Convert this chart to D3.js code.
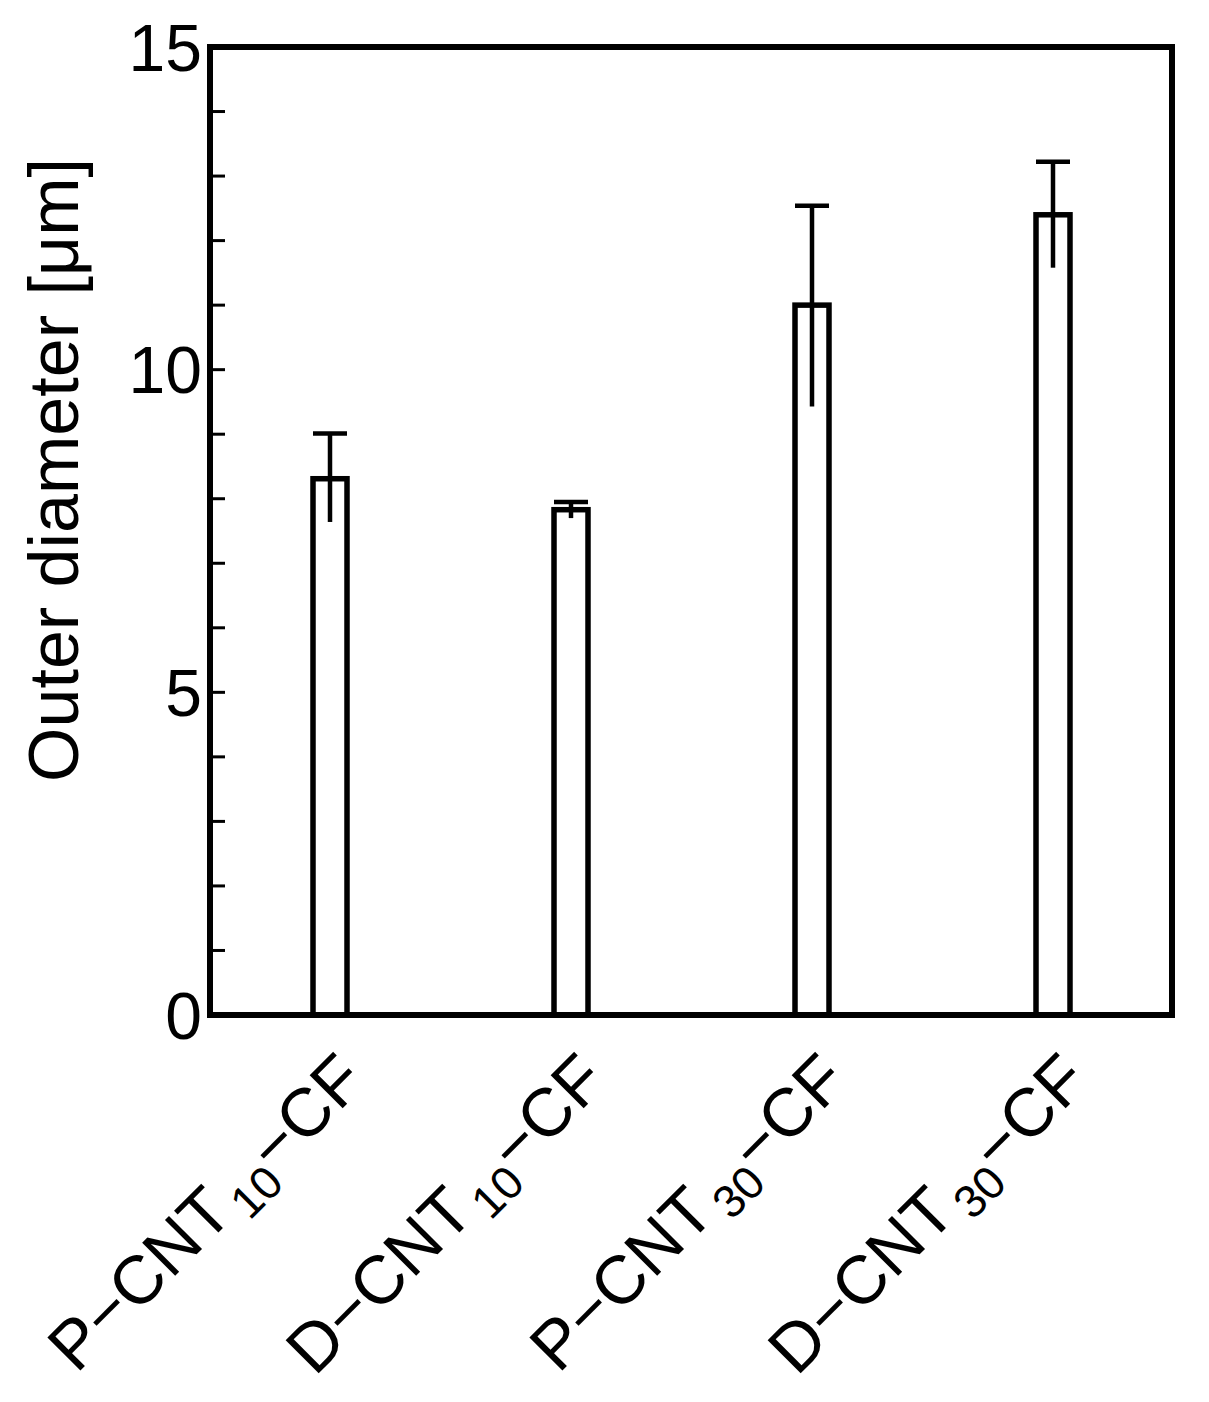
<!DOCTYPE html>
<html><head><meta charset="utf-8">
<script src="https://cdn.jsdelivr.net/npm/d3@7"></script>
<style>body{margin:0;background:#fff}</style>
</head><body>
<script>
var names = ["P", "D", "P", "D"];
var subs = ["10", "10", "30", "30"];
var values = [8.31, 7.83, 11.0, 12.4];
var errUp = [9.01, 7.95, 12.54, 13.22];
var errLow = [7.64, 7.7, 9.43, 11.58];
var majorTicks = [0, 5, 10, 15];

var W = 1209, H = 1402;
var margin = {top: 47, right: 37, bottom: 387, left: 210};
var w = W - margin.left - margin.right, h = H - margin.top - margin.bottom;

var svg = d3.select('body').append('svg').attr('width', W).attr('height', H)
  .style('font-family', 'Liberation Sans, Arial, sans-serif');
var g = svg.append('g').attr('transform', 'translate(' + margin.left + ',' + margin.top + ')');

var x = d3.scalePoint().domain(d3.range(4)).range([120, 843]);
var y = d3.scaleLinear().domain([0, 15]).range([h, 0]);
var bw = 34;

// minor ticks (inside)
g.selectAll('.minor').data(d3.range(1, 15)).enter().append('line')
  .attr('x1', 0).attr('x2', 15).attr('y1', d => y(d)).attr('y2', d => y(d))
  .attr('stroke', '#000').attr('stroke-width', 3);

g.selectAll('.tl').data(majorTicks).enter().append('text')
  .attr('x', -8).attr('y', d => y(d)).attr('dy', '0.36em')
  .attr('text-anchor', 'end').attr('font-size', 66).text(d => d);

// error bars
g.selectAll('.ev').data(values).enter().append('line')
  .attr('x1', (d, i) => x(i)).attr('x2', (d, i) => x(i))
  .attr('y1', (d, i) => y(errLow[i])).attr('y2', (d, i) => y(errUp[i]))
  .attr('stroke', '#000').attr('stroke-width', 4.5);
g.selectAll('.ec').data(values).enter().append('line')
  .attr('x1', (d, i) => x(i) - 17).attr('x2', (d, i) => x(i) + 17)
  .attr('y1', (d, i) => y(errUp[i])).attr('y2', (d, i) => y(errUp[i]))
  .attr('stroke', '#000').attr('stroke-width', 4.5);

// bars
g.selectAll('.bar').data(values).enter().append('rect')
  .attr('x', (d, i) => x(i) - bw / 2).attr('width', bw)
  .attr('y', d => y(d)).attr('height', d => h - y(d))
  .attr('fill', 'none').attr('stroke', '#000').attr('stroke-width', 5.5);

// frame
g.append('rect').attr('width', w).attr('height', h)
  .attr('fill', 'none').attr('stroke', '#000').attr('stroke-width', 6);

// x labels
var lab = g.selectAll('.xl').data(values).enter().append('text')
  .attr('transform', (d, i) => 'translate(' + (x(i) + 38) + ',' + (h + 68) + ') rotate(-45)')
  .attr('text-anchor', 'end').attr('font-size', 68);
lab.append('tspan').text((d, i) => names[i] + '\u2212CNT');
lab.append('tspan').attr('font-size', 46).attr('dy', 14).attr('dx', 6).text((d, i) => subs[i]);
lab.append('tspan').attr('dy', -14).text('\u2212CF');

svg.append('text')
  .attr('transform', 'translate(78,' + (margin.top + 423) + ') rotate(-90)')
  .attr('text-anchor', 'middle').attr('font-size', 70)
  .text('Outer diameter [\u03bcm]');
</script>
</body></html>
